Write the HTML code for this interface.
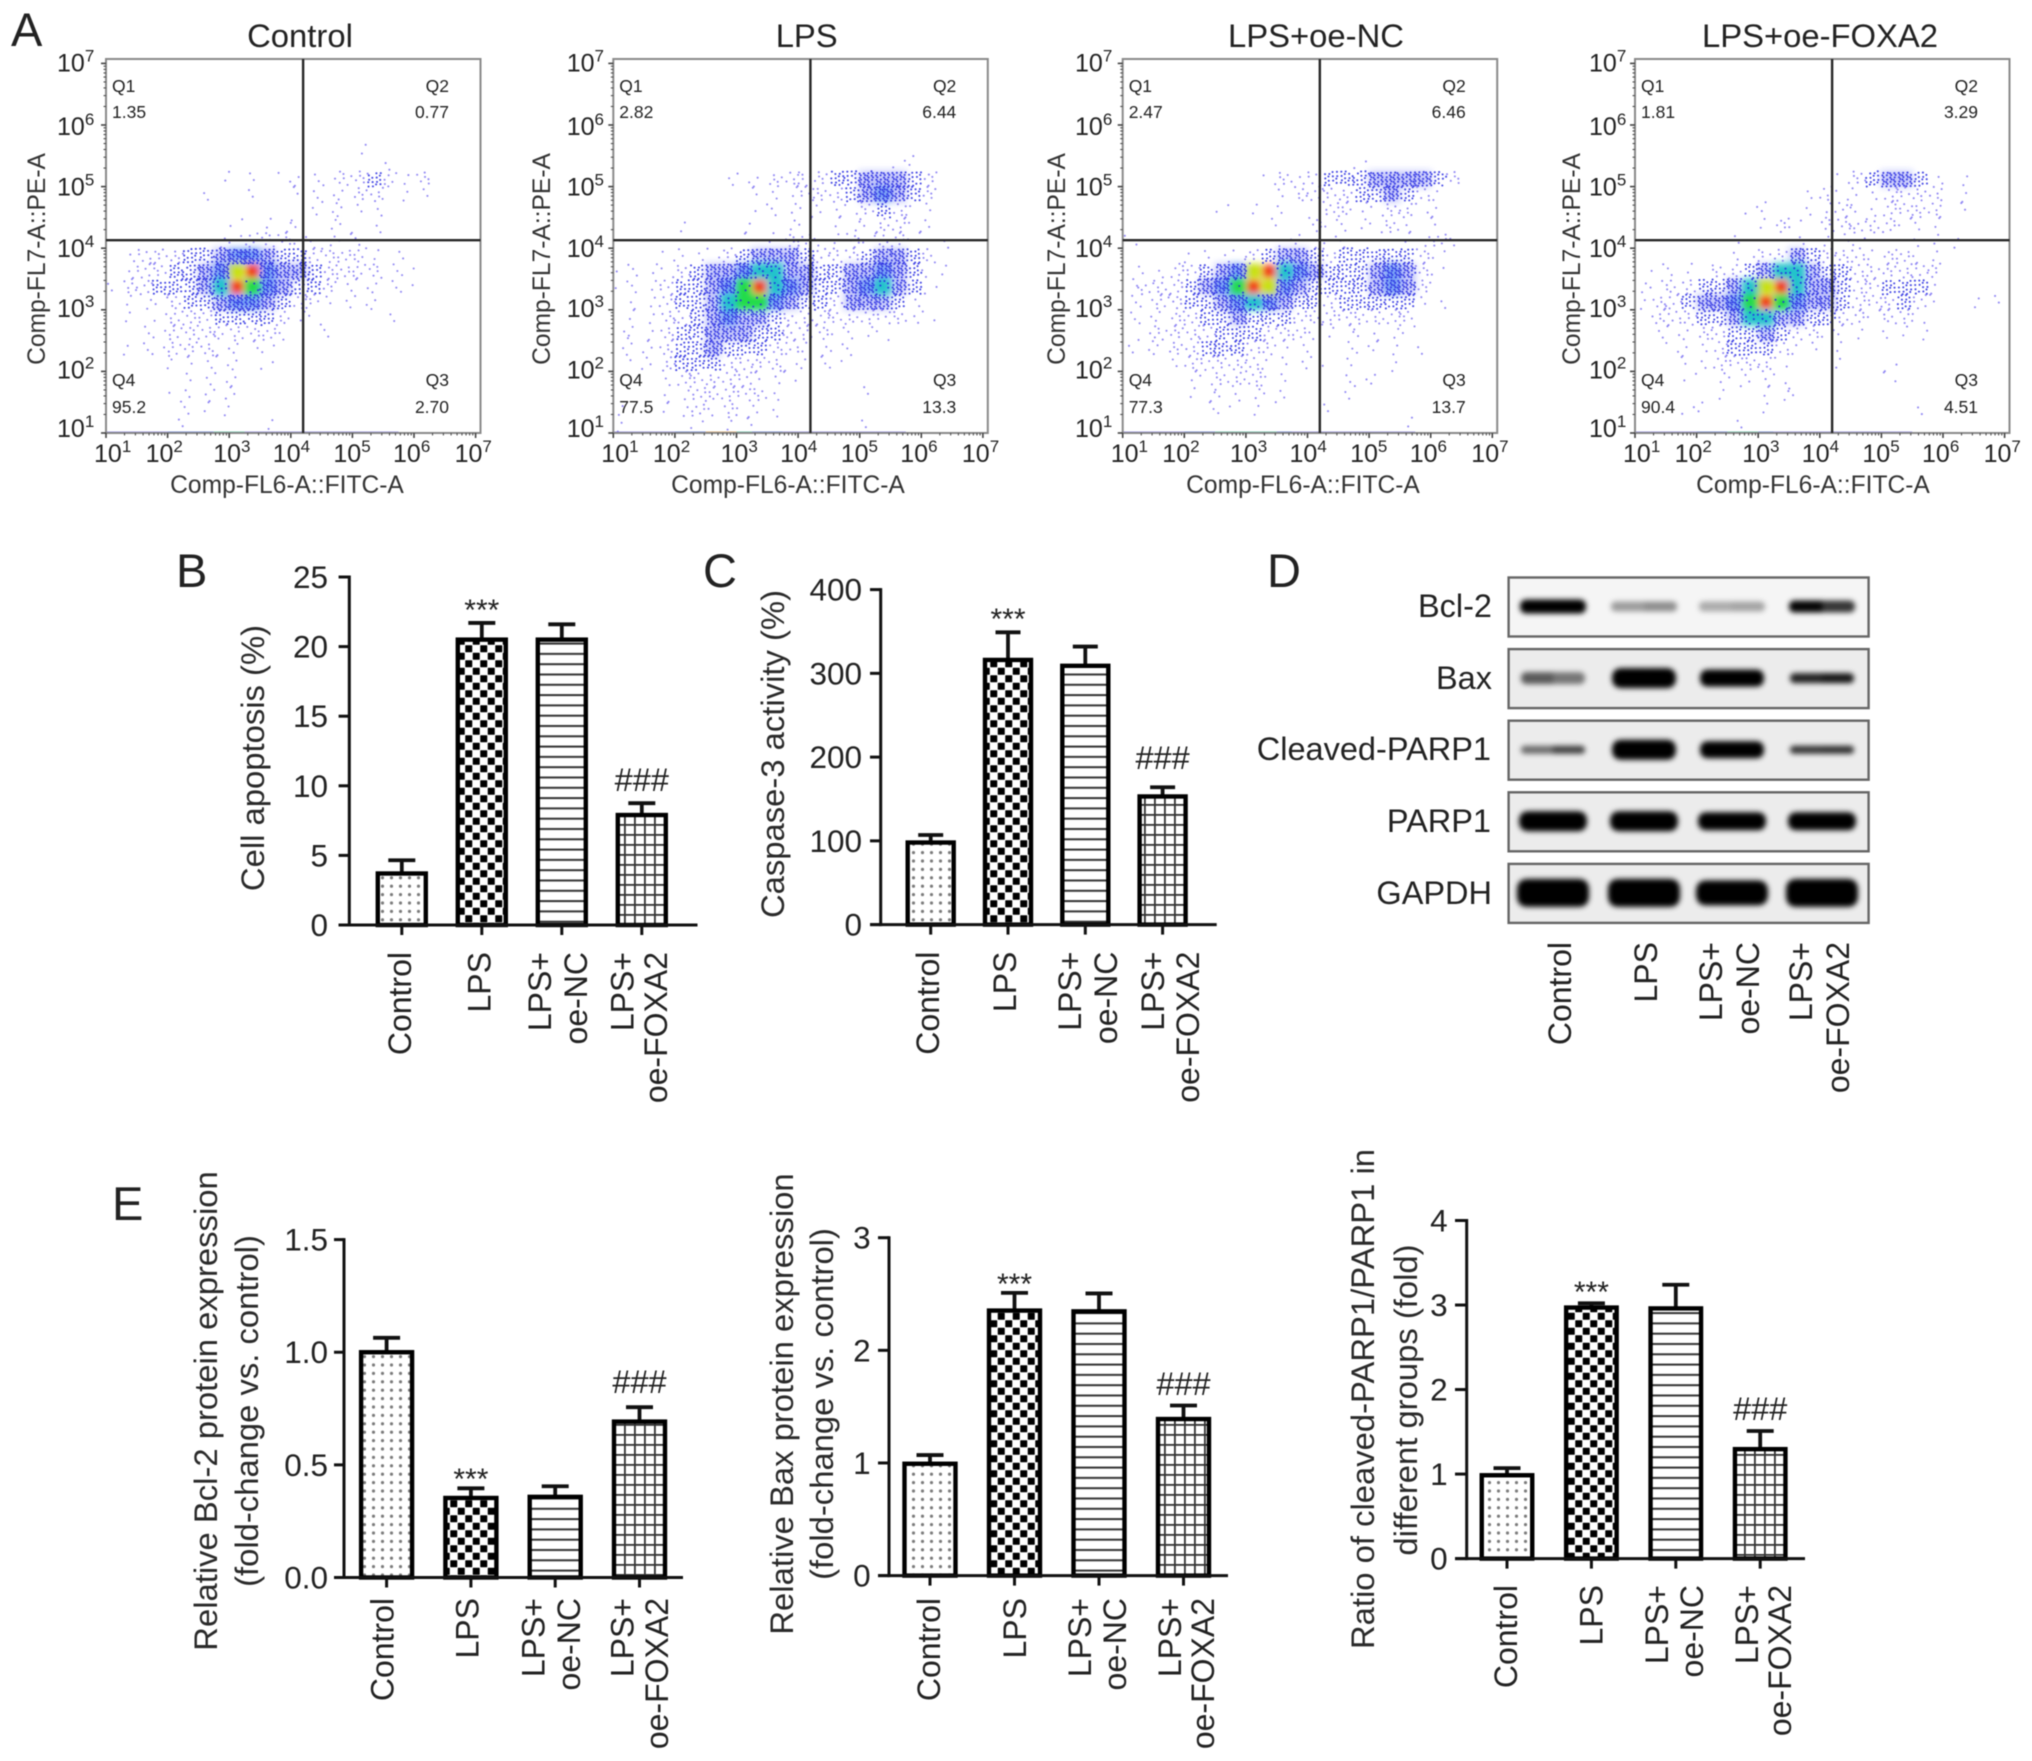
<!DOCTYPE html>
<html lang="en">
<head>
<meta charset="utf-8">
<title>FOXA2 apoptosis figure</title>
<style>
html,body{margin:0;padding:0;background:#fff;width:2032px;height:1761px;overflow:hidden}
svg{display:block;filter:blur(.65px)}
text{font-family:"Liberation Sans",Arial,sans-serif;fill:#222}
.panel{font-size:47px}
.flow-title{font-size:32.8px;text-anchor:middle}
.flow-axis{font-size:24.6px;text-anchor:middle;fill:#333}
.ytitle{font-size:32.8px;text-anchor:middle;fill:#2a2a2a}
.blot-label{font-size:32.5px;text-anchor:end}
</style>
</head>
<body>
<svg id="figure" xmlns="http://www.w3.org/2000/svg" width="2032" height="1761" viewBox="0 0 2032 1761">
<defs>
<filter id="densityBlur" x="-20%" y="-20%" width="140%" height="140%"><feGaussianBlur stdDeviation="3.4"/></filter>
<filter id="bandBlur" x="-30%" y="-80%" width="160%" height="260%"><feGaussianBlur stdDeviation="2.6"/></filter>
<pattern id="patDots" width="9" height="8.4" patternUnits="userSpaceOnUse"><circle cx="4.5" cy="4.2" r="1.6" fill="#7a7a7a"/></pattern>
<pattern id="patChecker" width="15" height="15" patternUnits="userSpaceOnUse"><rect width="15" height="15" fill="#fff"/><rect x=".25" y=".25" width="7" height="7" rx=".6" fill="#000"/><rect x="7.75" y="7.75" width="7" height="7" rx=".6" fill="#000"/></pattern>
<pattern id="patLines" width="10" height="10.3" patternUnits="userSpaceOnUse"><rect width="10" height="10.3" fill="#fff"/><rect y="4" width="10" height="2" fill="#333"/></pattern>
<pattern id="patGrid" width="10" height="10" patternUnits="userSpaceOnUse"><rect width="10" height="10" fill="#fff"/><rect y="4" width="10" height="1.8" fill="#333"/><rect x="4" width="1.8" height="10" fill="#333"/></pattern>
</defs>

<text class="panel" x="11" y="46">A</text>
<text class="panel" x="176" y="587">B</text>
<text class="panel" x="703" y="587">C</text>
<text class="panel" x="1267" y="587">D</text>
<text class="panel" x="112" y="1220">E</text>

<text class="flow-title" x="300" y="47">Control</text>
<text class="flow-title" x="806.7" y="47">LPS</text>
<text class="flow-title" x="1316" y="47">LPS+oe-NC</text>
<text class="flow-title" x="1820" y="47">LPS+oe-FOXA2</text>

<text class="flow-axis" x="287" y="493">Comp-FL6-A::FITC-A</text>
<text class="flow-axis" x="788" y="493">Comp-FL6-A::FITC-A</text>
<text class="flow-axis" x="1303" y="493">Comp-FL6-A::FITC-A</text>
<text class="flow-axis" x="1813" y="493">Comp-FL6-A::FITC-A</text>

<text class="flow-axis" transform="rotate(-90 45 259)" x="45" y="259">Comp-FL7-A::PE-A</text>
<text class="flow-axis" transform="rotate(-90 550 259)" x="550" y="259">Comp-FL7-A::PE-A</text>
<text class="flow-axis" transform="rotate(-90 1065 259)" x="1065" y="259">Comp-FL7-A::PE-A</text>
<text class="flow-axis" transform="rotate(-90 1580 259)" x="1580" y="259">Comp-FL7-A::PE-A</text>

<text class="ytitle" transform="rotate(-90 264 758)" x="264" y="758">Cell apoptosis (%)</text>
<text class="ytitle" transform="rotate(-90 784 754)" x="784" y="754">Caspase-3 activity (%)</text>

<text class="ytitle" transform="rotate(-90 217 1411)" x="217" y="1411">Relative Bcl-2 protein expression</text>
<text class="ytitle" transform="rotate(-90 258 1411)" x="258" y="1411">(fold-change vs. control)</text>
<text class="ytitle" transform="rotate(-90 793 1404)" x="793" y="1404">Relative Bax protein expression</text>
<text class="ytitle" transform="rotate(-90 833 1404)" x="833" y="1404">(fold-change vs. control)</text>
<text class="ytitle" transform="rotate(-90 1374 1399)" x="1374" y="1399">Ratio of cleaved-PARP1/PARP1 in</text>
<text class="ytitle" transform="rotate(-90 1417 1400)" x="1417" y="1400">different groups (fold)</text>

<text class="blot-label" x="1492" y="617">Bcl-2</text>
<text class="blot-label" x="1492" y="689">Bax</text>
<text class="blot-label" x="1491" y="760">Cleaved-PARP1</text>
<text class="blot-label" x="1491" y="832">PARP1</text>
<text class="blot-label" x="1492" y="904">GAPDH</text>
</svg>

<script>
/* ---------- Flow cytometry: density read per 0.25-decade cell, rows from 10^5.75 downward ---------- */
const densityTopRow = 5;
const controlDensity = [
[0,0,0,0,0,0,0,0,0,0,0,0,0,0,0,0,1],
[0,0,0,0,0,0,0,0,0,0,0,0,0,0,0,0,0,0,1],
[0,0,0,0,0,0,0,1,0,1,0,1,1,1,1,2,2,3,2,1,2],
[0,0,0,0,0,0,1,0,0,1,0,0,1,1,1,1,2,2,0,1,1],
[0,0,0,0,0,0,0,0,0,0,0,0,0,1,1,1,1,1],
[0,0,0,0,0,0,0,0,1,0,1,1,1,0,1,1,0,1],
[0,0,0,0,0,0,0,1,1,2,2,2,1,1,1,1,1],
[0,1,2,2,2,3,3,4,5,5,4,3,3,2,2,2,2,1,0,1],
[0,1,2,2,3,3,4,5,8,9,5,4,4,3,2,2,2,2,1,1],
[1,2,2,3,3,3,4,6,9,7,5,4,3,3,2,1,1,1,1,1],
[0,1,1,1,2,3,3,4,5,5,4,3,2,2,1,1,1,1],
[0,1,0,1,2,2,2,3,3,3,3,2,1,1,0,0,0,0,1],
[0,0,1,1,2,2,2,2,2,2,2,1,0,0,1],
[0,1,1,1,2,2,2,1,1,1,1],
[0,0,0,0,1,1,1,1,1,0,1],
[0,0,0,0,0,1,1,1,1],
[0,0,0,0,1,1,1,1,1],
[0,0,0,0,0,1,1,1],
[0,0,0,0,1,0,0,0,0,0,1]
];
const lpsDensity = [
[],
[0,0,0,0,0,0,0,0,0,0,0,0,0,0,0,0,0,0,1,1],
[0,0,0,0,0,0,0,1,1,1,2,2,2,2,3,3,4,4,4,3,2],
[0,0,0,0,0,0,0,0,0,1,1,1,2,2,2,3,4,5,4,3,2],
[0,0,0,0,0,0,0,0,0,1,1,1,1,1,1,1,2,3,2,1,1],
[0,0,0,0,1,0,0,0,1,0,0,1,1,0,1,1,1,2,2,1,1],
[0,0,0,0,0,0,0,0,1,0,1,2,2,1,1,2,1,2,2,1,0,1],
[0,0,0,1,1,1,1,2,3,4,4,4,3,2,2,2,3,4,4,3,2],
[1,1,1,1,2,3,4,4,5,6,6,4,4,3,3,4,4,5,4,3,1,1],
[1,1,1,2,3,3,4,5,7,9,6,5,4,3,3,4,5,6,4,3,1],
[0,1,1,2,3,3,4,6,7,7,5,4,3,3,2,4,4,4,3,1],
[0,1,1,2,2,3,4,5,4,4,3,2,2,2,2,2,2,2,2,1,1],
[1,1,1,2,3,3,4,4,4,3,3,2,2,2,1,1,1,1],
[1,1,1,2,3,3,4,3,3,3,2,2,1,1,1,1],
[0,1,1,2,3,3,3,2,2,2,2,1,1,1,1],
[0,0,0,1,2,2,2,2,2,1,1,1],
[0,0,0,1,1,2,2,2,2,2,1,0,0,0,0,0,1],
[1,0,0,1,1,2,1,2,1,1,1],
[1,0,0,0,0,1,0,1,1,0,0,0,0,0,0,0,1]
];
const ncDensity = [
[],
[0,0,0,0,0,0,0,0,0,0,0,0,0,0,0,1],
[0,0,0,0,0,0,0,0,0,1,2,1,2,3,3,3,4,4,4,4,3,2],
[0,0,0,0,0,0,0,0,0,0,1,2,2,2,2,3,3,4,3,2,1],
[0,0,0,0,0,0,1,0,1,0,1,0,0,2,2,1,1,2,2,1,1],
[0,0,0,0,0,0,0,0,0,1,0,0,2,1,1,1,1,2,1,0,1],
[1,0,0,0,0,0,0,0,0,0,1,1,1,1,1,0,0,0,1,1,2,1],
[0,0,0,0,1,1,1,1,2,3,4,4,3,2,3,3,3,3,3,2,1],
[0,1,1,2,2,3,4,5,8,9,6,5,4,3,3,3,4,5,4,2,1],
[1,2,2,2,3,4,5,7,9,8,5,4,3,3,3,3,4,5,4,2],
[1,1,2,2,3,3,4,5,6,5,4,3,3,2,3,3,3,3,3,1,1],
[1,1,1,2,2,3,3,4,3,3,3,2,2,2,2,2,2,2,2],
[0,1,2,2,2,2,3,3,3,2,2,2,1,1,1,1,1,1,1],
[1,1,1,2,2,3,3,3,2,2,1,1,0,0,1,1,1,1,0,1],
[0,0,0,1,2,2,2,2,2,1,1,1,1,0,1,0,0,1],
[0,0,0,0,1,1,2,2,2,1,1,0,0,0,1,1,1],
[0,0,0,0,1,1,1,1,1,1,1,0,0,0,1],
[0,0,0,0,0,1,1,0,1,0,0,0,0,1],
[0,0,0,0,0,0,0,0,0,0,0,0,0,0,0,0,0,0,1]
];
const foxa2Density = [
[],
[],
[0,0,0,0,0,0,0,0,0,0,0,0,0,1,2,3,4,4,3,1,0,1],
[0,0,0,0,0,0,0,0,0,0,0,1,2,1,1,1,2,2,2,2,0,1],
[0,0,0,0,0,0,0,1,1,0,0,1,1,2,1,1,2,2,2,2,0,1],
[0,0,0,0,0,0,0,0,1,2,1,0,2,2,2,2,2,1,1,1],
[0,0,0,0,0,0,1,0,0,0,1,0,1,1,1,0,0,0,1,1,1],
[0,0,0,0,0,0,1,1,2,2,4,3,2,2,2,1,2,2,1,1],
[0,1,1,1,0,2,2,3,4,6,6,4,3,3,2,2,2,2,2,2],
[1,1,2,2,3,3,4,6,8,9,6,4,4,3,2,2,3,3,3,1],
[1,2,2,3,4,4,5,7,9,7,5,4,4,3,2,2,2,3,2,1,0,0,1,1],
[0,2,2,2,3,3,4,6,6,4,4,3,3,2,2,1,2,2,1],
[0,1,1,1,2,2,3,3,4,3,2,2,1,1,1,0,1,1,1],
[0,0,1,1,1,2,3,3,3,2,1,1,0,1],
[0,0,0,1,1,2,2,2,2,1,0,0,0,1,0,0,1],
[0,0,0,1,0,1,1,1,1,1,0,0,0,0,0,0,1],
[0,0,0,0,0,1,0,0,1,1,1],
[0,0,0,1,1,0,0,0,1,0,0,0,0,0,0,0,0,0,1],
[0,0,0,0,0,0,1]
];
const controlRug = [1,1,1,1,2,2,2,3,3,1,1,1,1,1,1,1,1,1,1];
const lpsRug = [1,1,1,1,2,2,4,4,3,2,2,1,1,1,1,1,1,1,1];
const ncRug = [1,1,1,1,2,2,3,3,3,3,2,1,1,1,1,1,1,1,1];
const foxa2Rug = [1,1,1,1,2,2,3,3,2,1,1,1,1,1,1,1,1,1];

const flowNames = ['control','lps','lps-oe-nc','lps-oe-foxa2'];
const flowGateX = [4.2,4.2,4.2,4.2];
const flowGateY = [4.13,4.13,4.13,4.13];
const q1Values = ['1.35','2.82','2.47','1.81'];
const q2Values = ['0.77','6.44','6.46','3.29'];
const q3Values = ['2.70','13.3','13.7','4.51'];
const q4Values = ['95.2','77.5','77.3','90.4'];
const quadrantNames = ['Q1','Q2','Q3','Q4'];
const logTickExponents = [1,2,3,4,5,6,7];
const logTickBase = '10';

/* ---------- Bar charts ---------- */
const groupLabels = [['Control'],['LPS'],['LPS+','oe-NC'],['LPS+','oe-FOXA2']];
const sigStars = ['','***','',''];
const sigHash = ['','','','###'];

const apoptosisValues = [3.7,20.5,20.5,7.9];
const apoptosisUpper = [4.65,21.7,21.6,8.75];
const apoptosisTicks = ['0','5','10','15','20','25'];

const caspaseValues = [98,316,309,153];
const caspaseUpper = [107,349,332,164];
const caspaseTicks = ['0','100','200','300','400'];

const bcl2Values = [1.0,0.353,0.358,0.692];
const bcl2Upper = [1.064,0.396,0.405,0.756];
const bcl2Ticks = ['0.0','0.5','1.0','1.5'];

const baxValues = [0.993,2.353,2.346,1.39];
const baxUpper = [1.07,2.51,2.505,1.51];
const baxTicks = ['0','1','2','3'];

const parpValues = [0.986,2.97,2.96,1.295];
const parpUpper = [1.07,3.02,3.24,1.51];
const parpTicks = ['0','1','2','3','4'];

/* ---------- Western blot band densities: left / right half of each band ---------- */
const blotRowNames = ['bcl2','bax','cleaved-parp1','parp1','gapdh'];
const blotLeft = [[1,.36,.3,.98],[.62,1,1,.85],[.55,1,1,.78],[1,1,1,1],[1,1,1,1]];
const blotRight = [[1,.42,.33,.78],[.5,1,1,.9],[.72,1,1,.8],[1,1,1,1],[1,1,1,1]];
const blotThickness = [[14,10,10,12],[12,20,17,10],[8,20,17,8],[20,20,18,18],[28,28,25,28]];

const svg = document.getElementById('figure');
const NS = 'http://www.w3.org/2000/svg';
function mk(tag, attrs, parent){
  const e = document.createElementNS(NS, tag);
  for (const k in attrs) e.setAttribute(k, attrs[k]);
  (parent || svg).appendChild(e);
  return e;
}

/* ---------------- flow panels ---------------- */
const decadePx = 61.6, plotTop = 59, plotBottom = 433, plotW = 374.5;
const flowLeft = [106, 613.3, 1122.7, 1635];
const tickLabelLeft = [57, 566.7, 1075, 1589];
const xLabelNudge = [5,-5,1,-1,-2,-4,-4];
const yLabelNudge = [4,7,7,9,9,10,8];
const densityFill = {4:'#2a3cf0',5:'#1a62f0',6:'#14c0c8',7:'#22dc48',8:'#c8e010',9:'#f03a08'};
const densityOpacity = {4:.28,5:.6,6:.95,7:1,8:1,9:1};
const densityScale = {4:1,5:1,6:1,7:1,8:.95,9:.8};
const dotCounts = [0,2,6,15,26,30,8,4,0,0];
const rugFill = ['none','#7a72e8','#3f62dc','#3fc39a','#e0963c'];

function drawFlow(i, grid, rug){
  const L = flowLeft[i];
  const xd = d => L + (d - 1) * decadePx;
  const yd = d => plotBottom - (d - 1) * decadePx;
  const g = mk('g', {});
  
  

  const field = mk('g', {filter:'url(#densityBlur)'}, g);
  
  
  const dots = mk('g', {}, g);
  
  

  const order = [4,5,6,7,8,9];
  const cell = decadePx / 4;
  order.forEach(level => {
    grid.forEach((row, r) => row.forEach((v, c) => {
      if (v !== level) return;
      const cx = xd(1 + c / 4), cy = yd(7 - (r + densityTopRow) / 4);
      const s = (cell + .6) * densityScale[level], inset = (cell - s) / 2;
      mk('rect', {x:cx + inset, y:cy + inset, width:s, height:s, fill:densityFill[level], opacity:densityOpacity[level]}, field);
    }));
  });
  grid.forEach((row, r) => row.forEach((v, c) => {
    const n = dotCounts[v || 0];
    const cx = xd(1 + c / 4), cy = yd(7 - (r + densityTopRow) / 4);
    const start = r * 37 + c * 11 + i * 5;
    for (let k = 0; k < n; k++){
      const u = ((start + k) * 0.7549) % 1, w = ((start + k) * 0.5698) % 1;
      mk('circle', {cx:cx + u * cell, cy:cy + w * cell, r:1.05, fill:v >= 3 ? '#2428e0' : '#6d62f0', opacity:v >= 3 ? .85 : .75}, dots);
    }
  }));
  rug.forEach((v, c) => {
    mk('rect', {x:xd(1 + c / 4), y:plotBottom - 1.5, width:cell, height:2.2, fill:rugFill[v], opacity:.8}, g);
  });

  const frame = mk('rect', {x:L, y:plotTop, width:plotW, height:plotBottom-plotTop, fill:'none', stroke:'#8a8a8a', 'stroke-width':2}, g);
  
  

  const vg = mk('line', {x1:xd(flowGateX[i]), x2:xd(flowGateX[i]), y1:plotTop, y2:plotBottom, stroke:'#262626', 'stroke-width':2.4}, g);
  
  
  const hg = mk('line', {x1:L, x2:L+plotW, y1:yd(flowGateY[i]), y2:yd(flowGateY[i]), stroke:'#262626', 'stroke-width':2.4}, g);
  
  

  /* ticks */
  const ticks = mk('g', {stroke:'#444', 'stroke-width':1.6}, g);
  
  
  logTickExponents.forEach(e => {
    mk('line', {x1:xd(e), x2:xd(e), y1:plotBottom, y2:plotBottom+5}, ticks);
    mk('line', {x1:L-5, x2:L, y1:yd(e), y2:yd(e)}, ticks);
    if (e < 7) for (let m = 2; m < 10; m++){
      const o = Math.log10(m);
      mk('line', {x1:xd(e+o), x2:xd(e+o), y1:plotBottom, y2:plotBottom+2.5, 'stroke-width':1}, ticks);
      mk('line', {x1:L-2.5, x2:L, y1:yd(e+o), y2:yd(e+o), 'stroke-width':1}, ticks);
    }
  });

  /* tick labels */
  logTickExponents.forEach((e, k) => {
    const tx = mk('text', {x:xd(e) - 17 + xLabelNudge[k], y:462, 'font-size':25, fill:'#333'}, g);
    
    
    tx.textContent = logTickBase;
    const sx = mk('tspan', {dy:-10, 'font-size':17}, tx);
    sx.textContent = e;
    const ty = mk('text', {x:tickLabelLeft[i], y:yd(e) + yLabelNudge[k], 'font-size':25, fill:'#333'}, g);
    
    
    ty.textContent = logTickBase;
    const sy = mk('tspan', {dy:-10, 'font-size':17}, ty);
    sy.textContent = e;
  });

  /* quadrant annotations */
  const ql = L + 6, qr = L + 343;
  const spots = [[ql,92,118,'start',q1Values[i]],[qr,92,118,'end',q2Values[i]],[qr,386,413,'end',q3Values[i]],[ql,386,413,'start',q4Values[i]]];
  spots.forEach((s, k) => {
    const a = mk('text', {x:s[0], y:s[1], 'font-size':17.5, 'text-anchor':s[3], fill:'#444'}, g);
    
    
    a.textContent = quadrantNames[k];
    const b = mk('text', {x:s[0], y:s[2], 'font-size':17.5, 'text-anchor':s[3], fill:'#444'}, g);
    
    
    b.textContent = s[4];
  });
}
drawFlow(0, controlDensity, controlRug);
drawFlow(1, lpsDensity, lpsRug);
drawFlow(2, ncDensity, ncRug);
drawFlow(3, foxa2Density, foxa2Rug);

/* ---------------- bar charts ---------------- */
const barPatterns = ['url(#patDots)','url(#patChecker)','url(#patLines)','url(#patGrid)'];

function rotatedLabel(x, top, str, parent){
  const t = mk('text', {x:x, y:top, transform:'rotate(-90 '+x+' '+top+')', 'text-anchor':'end', 'font-size':32, fill:'#2a2a2a'}, parent);
  
  
  t.textContent = str;
}

function drawBars(o){
  const g = mk('g', {});
  
  
  const y = v => o.y0 - (v / o.max) * (o.y0 - o.yTop);
  const x = i => o.x0 + i * o.step;

  o.values.forEach((v, i) => {
    const cap = o.cap;
    const err = mk('path', {d:'M'+x(i)+' '+y(v)+'V'+y(o.upper[i])+'M'+(x(i)-cap/2)+' '+y(o.upper[i])+'H'+(x(i)+cap/2), stroke:'#111', 'stroke-width':3.8, fill:'none'}, g);
    
    
    const bar = mk('rect', {x:x(i)-o.w/2+2, y:y(v), width:o.w-4, height:y(0)-y(v), fill:barPatterns[i], stroke:'#000', 'stroke-width':4.4}, g);
    
    
    const tick = mk('line', {x1:x(i), x2:x(i), y1:o.y0, y2:o.y0+10, stroke:'#111', 'stroke-width':3}, g);
    
    

    const pos = o.labelX[i];
    groupLabels[i].forEach((line, k) => rotatedLabel(pos[k] + 11, o.labelTop, line, g));

    if (sigStars[i]){
      const s = mk('text', {x:x(i), y:o.starY + 17, 'text-anchor':'middle', 'font-size':30, fill:'#333'}, g);
      
      
      s.textContent = sigStars[i];
    }
    if (sigHash[i]){
      const s = mk('text', {x:x(i), y:o.hashY + 12, 'text-anchor':'middle', 'font-size':32.5, fill:'#333'}, g);
      
      
      s.textContent = sigHash[i];
    }
  });

  const axY = mk('line', {x1:o.axisX, x2:o.axisX, y1:o.yTop-1.5, y2:o.y0+1.5, stroke:'#111', 'stroke-width':3}, g);
  
  
  const axX = mk('line', {x1:o.tickLeft, x2:o.right, y1:o.y0, y2:o.y0, stroke:'#111', 'stroke-width':3}, g);
  
  

  o.ticks.forEach(label => {
    const v = parseFloat(label);
    const t = mk('line', {x1:o.tickLeft, x2:o.axisX, y1:y(v), y2:y(v), stroke:'#111', 'stroke-width':3}, g);
    
    
    const lab = mk('text', {x:o.labelRight, y:y(v)+11, 'text-anchor':'end', 'font-size':31.5, fill:'#2a2a2a'}, g);
    
    
    lab.textContent = label;
  });
}

drawBars({name:'cell-apoptosis', values:apoptosisValues, upper:apoptosisUpper, ticks:apoptosisTicks, max:25,
  axisX:349.3, y0:925, yTop:577, x0:401.8, step:80, w:52, cap:27, right:697.5, tickLeft:338.6, labelRight:328, starY:603, hashY:779, labelTop:952,
  labelX:[[400],[479.6],[540,576],[622.5,656]]});
drawBars({name:'caspase-3', values:caspaseValues, upper:caspaseUpper, ticks:caspaseTicks, max:400,
  axisX:880.7, y0:924.6, yTop:589.6, x0:930.7, step:77.3, w:50, cap:25, right:1216.7, tickLeft:870, labelRight:862, starY:612, hashY:757, labelTop:951.6,
  labelX:[[928],[1005],[1070,1106],[1153,1188]]});
drawBars({name:'bcl-2', values:bcl2Values, upper:bcl2Upper, ticks:bcl2Ticks, max:1.5,
  axisX:344, y0:1577.5, yTop:1239.6, x0:386.6, step:84.3, w:55, cap:27, right:683, tickLeft:334, labelRight:328, starY:1472, hashY:1381, labelTop:1598,
  labelX:[[382.6],[467.6],[533.6,569],[622.5,657]]});
drawBars({name:'bax', values:baxValues, upper:baxUpper, ticks:baxTicks, max:3,
  axisX:889, y0:1575.6, yTop:1237.7, x0:930, step:84.5, w:55, cap:27, right:1228, tickLeft:878, labelRight:870.6, starY:1277, hashY:1383, labelTop:1598,
  labelX:[[929],[1015],[1080,1115],[1170,1203]]});
drawBars({name:'cleaved-parp1-ratio', values:parpValues, upper:parpUpper, ticks:parpTicks, max:4,
  axisX:1466.7, y0:1558.6, yTop:1220.5, x0:1507, step:84.4, w:54.5, cap:27, right:1805, tickLeft:1455, labelRight:1447.7, starY:1285, hashY:1408, labelTop:1585,
  labelX:[[1506],[1591.7],[1657,1692],[1747,1780]]});

/* ---------------- western blot ---------------- */
(function(){
  const blotX = 1508.6, blotW = 360, blotH = 59, blotY0 = 577.5, blotPitch = 71.6;
  const laneX = [1553,1644,1732,1822];
  const rowHalfWidth = [33,32,32,34,36];
  const g = mk('g', {});
  
  
  const halfBand = (x, cy, w, h, dir) => {
    const q = Math.min(h / 2, 11);
    return 'M' + x + ' ' + (cy - h / 2) + 'h' + (dir * (w - q)) +
      'q' + (dir * q) + ' 0 ' + (dir * q) + ' ' + q +
      'v' + (h - 2 * q) +
      'q0 ' + q + ' ' + (-dir * q) + ' ' + q +
      'h' + (-dir * (w - q)) + 'z';
  };
  blotRowNames.forEach((name, r) => {
    const top = blotY0 + r * blotPitch;
    const row = mk('g', {}, g);
    
    
    mk('rect', {x:blotX, y:top, width:blotW, height:blotH, fill:r === 0 ? '#f5f5f5' : '#ececec', stroke:'#666', 'stroke-width':2.4}, row);
    const bands = mk('g', {filter:'url(#bandBlur)'}, row);
    laneX.forEach((lx, l) => {
      const h = blotThickness[r][l], hw = rowHalfWidth[r];
      const cy = top + blotH / 2 - 0.5;
      mk('path', {d:halfBand(lx, cy, hw, h, -1), fill:'#000', opacity:blotLeft[r][l]}, bands);
      mk('path', {d:halfBand(lx, cy, hw, h, 1), fill:'#000', opacity:blotRight[r][l]}, bands);
    });
  });
  const labelX = [[1560],[1646],[1711,1748],[1801,1838]];
  groupLabels.forEach((lines, i) => lines.forEach((line, k) => rotatedLabel(labelX[i][k] + 11, 942, line, g)));
})();
</script>
</body>
</html>
